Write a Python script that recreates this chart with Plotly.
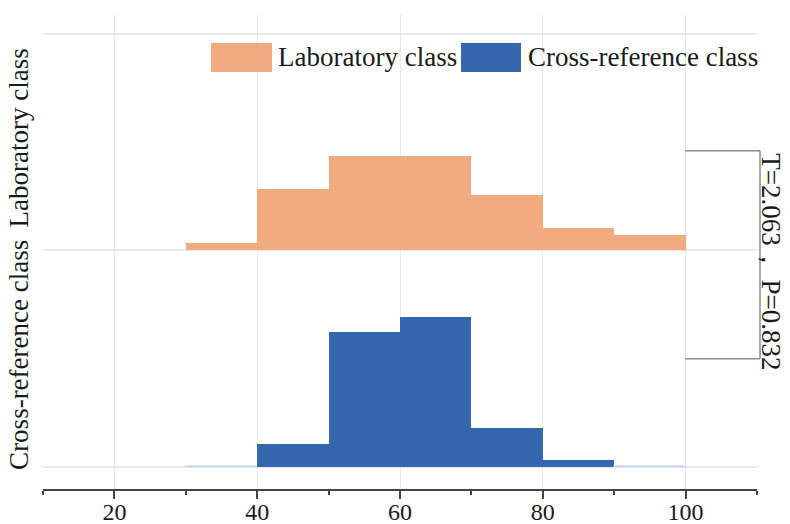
import plotly.graph_objects as go

# ---- data ----
bin_left = [30, 40, 50, 60, 70, 80, 90]
bin_width = 10
lab_pct = [2.0, 17.7, 27.0, 27.0, 15.7, 6.3, 4.3]
cross_pct = [0.0, 6.7, 38.7, 43.1, 11.3, 2.1, 0.0]
groups = ["Cross-reference class", "Laboratory class"]   # bottom -> top
x_ticks = [20, 40, 60, 80, 100]
stat_text = "T=2.063， P=0.832"

# ---- style ----
lab_color = "#F1AB7E"
cross_color = "#3566AE"
ridge_scale = 3.5 / 217.0   # ridge height (axis units) per percent
font_family = "Liberation Serif"
text_color = "#1a1a1a"

centers = [b + bin_width / 2 for b in bin_left]

fig = go.Figure()
fig.add_trace(go.Bar(
    x=centers, y=[v * ridge_scale for v in lab_pct], base=1, width=bin_width,
    marker=dict(color=lab_color, line=dict(width=0)), name=groups[1], showlegend=False,
))
fig.add_trace(go.Bar(
    x=centers, y=[v * ridge_scale for v in cross_pct], base=0, width=bin_width,
    marker=dict(color=cross_color,
                line=dict(width=[1.5 if v == 0 else 0 for v in cross_pct], color="#BCD2EA")),
    name=groups[0], showlegend=False,
))

L, R, T, B = 43, 33, 14, 35
W, H = 790, 524
pw, ph = W - L - R, H - T - B

def px(xp):
    return (xp - L) / pw

def py(yp):
    return (H - B - yp) / ph

shapes = []
annotations = []
# custom legend
legend_items = [(groups[1], lab_color, 211, 272, 276), (groups[0], cross_color, 461, 521, 526)]
for name, col, x0, x1, xt in legend_items:
    shapes.append(dict(type="rect", xref="paper", yref="paper", x0=px(x0), x1=px(x1),
                       y0=py(72), y1=py(43), fillcolor=col, line=dict(width=0)))
    annotations.append(dict(xref="paper", yref="paper", x=px(xt), y=py(57), text=name,
                            showarrow=False, xanchor="left", yanchor="middle",
                            font=dict(family=font_family, size=27, color=text_color)))

# bracket
bx0, bx1 = px(685), px(760)
btop, bbot = 1.46, 0.5
for (xa, ya, xb, yb) in [(bx0, btop, bx1, btop), (bx1, btop, bx1, bbot), (bx1, bbot, bx0, bbot)]:
    shapes.append(dict(type="line", xref="paper", yref="y", x0=xa, y0=ya, x1=xb, y1=yb,
                       line=dict(color="#8c8c8c", width=1.5)))
annotations.append(dict(xref="paper", yref="y", x=px(771), y=0.95, text=stat_text,
                        textangle=90, showarrow=False, xanchor="center", yanchor="middle",
                        font=dict(family=font_family, size=27, color=text_color)))

fig.update_layout(
    width=W, height=H,
    margin=dict(l=L, r=R, t=T, b=B),
    paper_bgcolor="white", plot_bgcolor="white",
    barmode="overlay", bargap=0,
    shapes=shapes, annotations=annotations,
    font=dict(family=font_family, color=text_color),
)
fig.update_xaxes(
    automargin=False,
    range=[10, 110], tickvals=x_ticks, ticktext=[str(v) for v in x_ticks],
    showline=True, linecolor="#444444", linewidth=2,
    ticks="outside", ticklen=8, tickwidth=2, tickcolor="#444444",
    tickfont=dict(family=font_family, size=24, color=text_color),
    ticklabelstandoff=-8,
    showgrid=True, gridcolor="#E6E8EE", gridwidth=1,
    minor=dict(dtick=10, tick0=10, ticks="outside", ticklen=4, tickwidth=1.5, tickcolor="#444444", showgrid=False),
    zeroline=False,
)
fig.update_yaxes(
    automargin=False,
    range=[-0.1, 2.09], tickvals=[0.5, 1.5], ticktext=groups, tickangle=-90,
    tickfont=dict(family=font_family, size=27, color=text_color),
    showgrid=False, zeroline=False, showline=False, ticks="", ticklabelstandoff=9,
    minor=dict(tickvals=[0, 1, 2], showgrid=True, gridcolor="#E6E8EE", gridwidth=1.5),
)

fig.write_html("out.html")
